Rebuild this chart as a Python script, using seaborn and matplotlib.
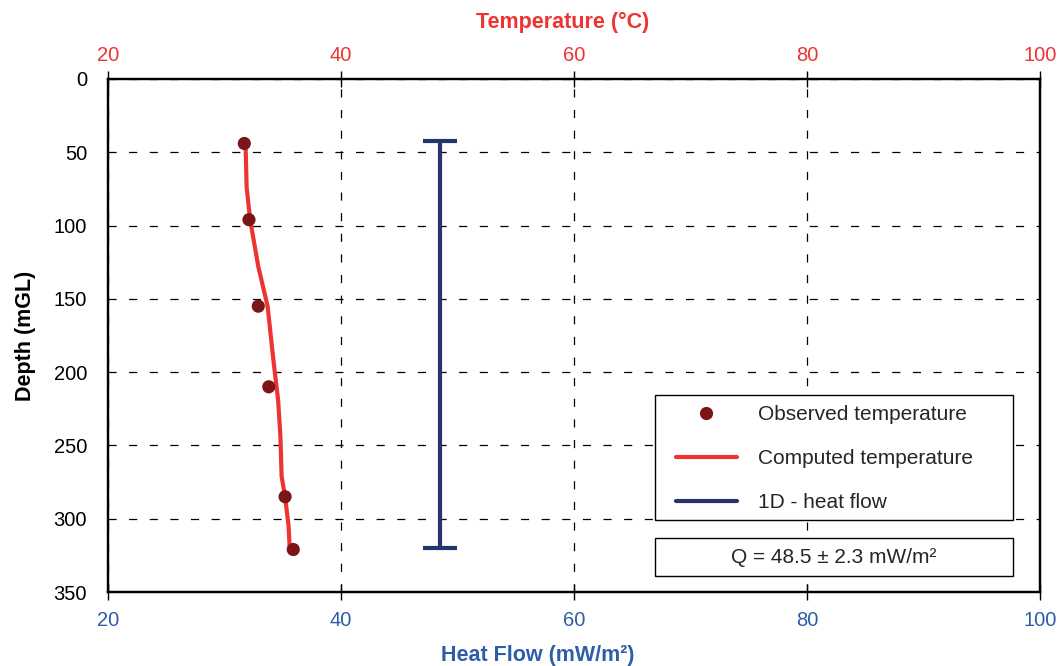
import numpy as np
import pandas as pd
import matplotlib
matplotlib.use("Agg")
import matplotlib.pyplot as plt
from matplotlib.lines import Line2D
from matplotlib.patches import Rectangle
import seaborn as sns

# observed temperature log
obs_temp = [31.7, 32.1, 32.9, 33.8, 35.2, 35.9]
obs_depth = [44, 96, 155, 210, 285, 321]

# computed temperature profile
comp_temp = [31.8, 31.9, 32.2, 32.9, 33.7, 34.2, 34.6, 34.8, 34.9, 35.2, 35.5, 35.6]
comp_depth = [43, 74, 96, 128, 155, 192, 219, 244, 271, 285, 305, 321]

# 1D heat flow
hf_value = 48.5
hf_err = 2.3
hf_depth = [42, 320]

axis_ticks = [20, 40, 60, 80, 100]
depth_ticks = [0, 50, 100, 150, 200, 250, 300, 350]

RED = "#ee3333"
DARKRED = "#7b1518"
NAVY = "#27356f"
BLUE = "#2f5ea8"

sns.set_style("white")
plt.rcParams["font.family"] = ["Liberation Sans", "DejaVu Sans"]

obs = pd.DataFrame({"temp": obs_temp, "depth": obs_depth})
comp = pd.DataFrame({"temp": comp_temp, "depth": comp_depth})
hf = pd.DataFrame({"hf": [hf_value, hf_value], "depth": hf_depth})

fig = plt.figure(figsize=(10.61, 6.66), dpi=100)
ax = fig.add_axes([0.1018, 0.1111, 0.8784, 0.7703])

# heat flow on bottom axis
sns.lineplot(data=hf, x="hf", y="depth", ax=ax, color=NAVY, lw=3,
             sort=False, estimator=None, marker="_", markersize=24,
             markeredgewidth=3, markeredgecolor=NAVY)
ax.set_xlim(20, 100)
ax.set_ylim(350, 0)
ax.set_xticks(axis_ticks)
ax.set_yticks(depth_ticks)
ax.grid(True, color="black", lw=0.9, linestyle=(0, (6.5, 10)))
ax.set_xlabel("Heat Flow (mW/m²)", color=BLUE, fontsize=15.5, fontweight="bold")
ax.set_ylabel("Depth (mGL)", color="black", fontsize=15.5, fontweight="bold")
ax.xaxis.set_label_coords(0.461, -0.103)
ax.yaxis.set_label_coords(-0.077, 0.5)
ax.tick_params(axis="x", colors=BLUE, labelsize=14.5, direction="inout", length=12, width=1, pad=8)
ax.tick_params(axis="x", color="black")
ax.tick_params(axis="y", colors="black", labelsize=14.5, direction="inout", length=12, width=1, pad=9)

# temperature on top axis
tx = ax.twiny()
sns.lineplot(data=comp, x="temp", y="depth", ax=tx, color=RED, lw=3,
             sort=False, estimator=None)
sns.scatterplot(data=obs, x="temp", y="depth", ax=tx, color=DARKRED, s=90,
                edgecolor="none", zorder=5)
tx.set_xlim(20, 100)
tx.set_ylim(350, 0)
tx.set_xticks(axis_ticks)
tx.set_xlabel("Temperature (°C)", color=RED, fontsize=15.5, fontweight="bold")
tx.xaxis.set_label_coords(0.488, 1.10)
tx.tick_params(axis="x", colors=RED, labelsize=14.5, direction="inout", length=12, width=1, pad=4)
tx.tick_params(axis="x", color="black")
tx.set_ylabel("")

for a in (ax, tx):
    for s in a.spines.values():
        s.set_color("black")
        s.set_linewidth(1.6)

# legend box and Q box
tx.add_patch(Rectangle((0.587, 0.1404), 0.384, 0.2437, transform=tx.transAxes,
                       facecolor="white", edgecolor="black", lw=1.0, zorder=9))
tx.add_patch(Rectangle((0.587, 0.031), 0.384, 0.074, transform=tx.transAxes,
                       facecolor="white", edgecolor="black", lw=1.0, zorder=9))

handles = [
    Line2D([], [], marker="o", color="none", markerfacecolor=DARKRED,
           markeredgecolor="none", markersize=9.5, label="Observed temperature"),
    Line2D([], [], color=RED, lw=3, label="Computed temperature"),
    Line2D([], [], color=NAVY, lw=3, label="1D - heat flow"),
]
leg = tx.legend(handles=handles, loc="upper left",
                bbox_to_anchor=(0.6094, 0.364), fontsize=15, frameon=False,
                labelspacing=1.2, handlelength=2.93, handletextpad=1.0,
                borderpad=0, borderaxespad=0)
leg.set_zorder(10)

tx.text(0.779, 0.068, f"Q = {hf_value} ± {hf_err} mW/m²", transform=tx.transAxes,
        ha="center", va="center", fontsize=15, zorder=11)

fig.savefig("out.png", dpi=100)
